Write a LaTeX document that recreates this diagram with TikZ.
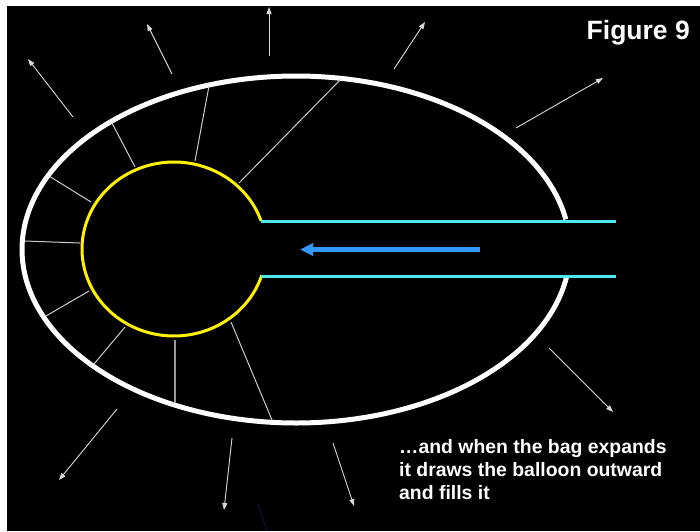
\documentclass[tikz,border=0pt]{standalone}
\usepackage{fontspec}
\setmainfont{Liberation Sans}
\usetikzlibrary{arrows.meta}
\definecolor{tubecol}{RGB}{80,232,240}
\definecolor{flowcol}{RGB}{51,153,255}
\definecolor{faintnavy}{RGB}{15,15,80}
\begin{document}
\begin{tikzpicture}[x=1pt,y=-1pt,
  bag/.style={white, line width=5pt},
  balloon/.style={yellow, line width=3pt},
  tube/.style={tubecol, line width=3pt},
  flow/.style={flowcol, line width=4.5pt, -{Triangle[length=13pt,width=12pt]}},
  spoke/.style={white!80!black, line width=1pt},
  thickspoke/.style={white!60!black, line width=1.6pt},
  push/.style={white!85!black, line width=0.9pt, -{Triangle[length=7pt,width=5pt]}},
  lbl/.style={white, inner sep=0pt, font=\bfseries}
]
\useasboundingbox (0,0) rectangle (700,531);
\fill[white] (0,0) rectangle (700,531);
\fill[black] (7,6) rectangle (700,531);

% outer bag (ellipse, open on the right where the tube enters)
\draw[bag] plot[domain=9.3:350.0, samples=240, smooth] ({296+274*cos(\x)},{249.5+173.5*sin(\x)});

% balloon (yellow, open on the right)
\draw[balloon] plot[domain=17.7:341.2, samples=160, smooth] ({174+92*cos(\x)},{249+87*sin(\x)});

% tube
\coordinate (t1a) at (261,221); \coordinate (t1b) at (616,221);
\coordinate (t2a) at (261,276); \coordinate (t2b) at (616,276);
\draw[tube] (t1a) -- (t1b);
\draw[tube] (t2a) -- (t2b);

% flow arrow
\coordinate (fa) at (480,249.5); \coordinate (fb) at (300,249.5);
\draw[flow] (fa) -- (fb);

% spokes between balloon and bag
\coordinate (s1a) at (239,183); \coordinate (s1b) at (341,79);
\coordinate (s2a) at (195,161); \coordinate (s2b) at (209,86);
\coordinate (s3a) at (135,167); \coordinate (s3b) at (112,123);
\coordinate (s4a) at (91,202);  \coordinate (s4b) at (49,176);
\coordinate (s5a) at (80,243);  \coordinate (s5b) at (25,241);
\coordinate (s6a) at (89,291);  \coordinate (s6b) at (46,316);
\coordinate (s7a) at (125,327); \coordinate (s7b) at (94,364);
\coordinate (s8a) at (175,340); \coordinate (s8b) at (175,403);
\coordinate (s9a) at (231,322); \coordinate (s9b) at (272,420);
\foreach \i in {1,2,3,4,5,6,7,9} \draw[spoke] (s\i a) -- (s\i b);
\draw[thickspoke] (s8a) -- (s8b);

% outward arrows
\coordinate (pAa) at (73,117);  \coordinate (pAb) at (28,59);
\coordinate (pBa) at (172,74);  \coordinate (pBb) at (147,24);
\coordinate (pCa) at (269,56);  \coordinate (pCb) at (269,7);
\coordinate (pDa) at (394,69);  \coordinate (pDb) at (425,22);
\coordinate (pEa) at (516,128); \coordinate (pEb) at (603,78);
\coordinate (pFa) at (549,348); \coordinate (pFb) at (613,412);
\coordinate (pGa) at (117,409); \coordinate (pGb) at (59,480);
\coordinate (pHa) at (232,438); \coordinate (pHb) at (224,510);
\coordinate (pIa) at (333,443); \coordinate (pIb) at (354,506);
\foreach \i in {A,B,C,D,E,F,G,H,I} \draw[push] (p\i a) -- (p\i b);

% faint mark
\coordinate (na) at (258,504); \coordinate (nb) at (267,531);
\draw[faintnavy, line width=1pt] (na) -- (nb);

% texts
\node[lbl, anchor=base east, font=\bfseries\fontsize{26.5}{30}\selectfont] (fig) at (690,39) {Figure 9};
\node[lbl, anchor=base west, align=left, font=\bfseries\fontsize{19.4}{23}\selectfont] (cap) at (399,499)
  {…and when the bag expands\\it draws the balloon outward\\and fills it};
\end{tikzpicture}
\end{document}
